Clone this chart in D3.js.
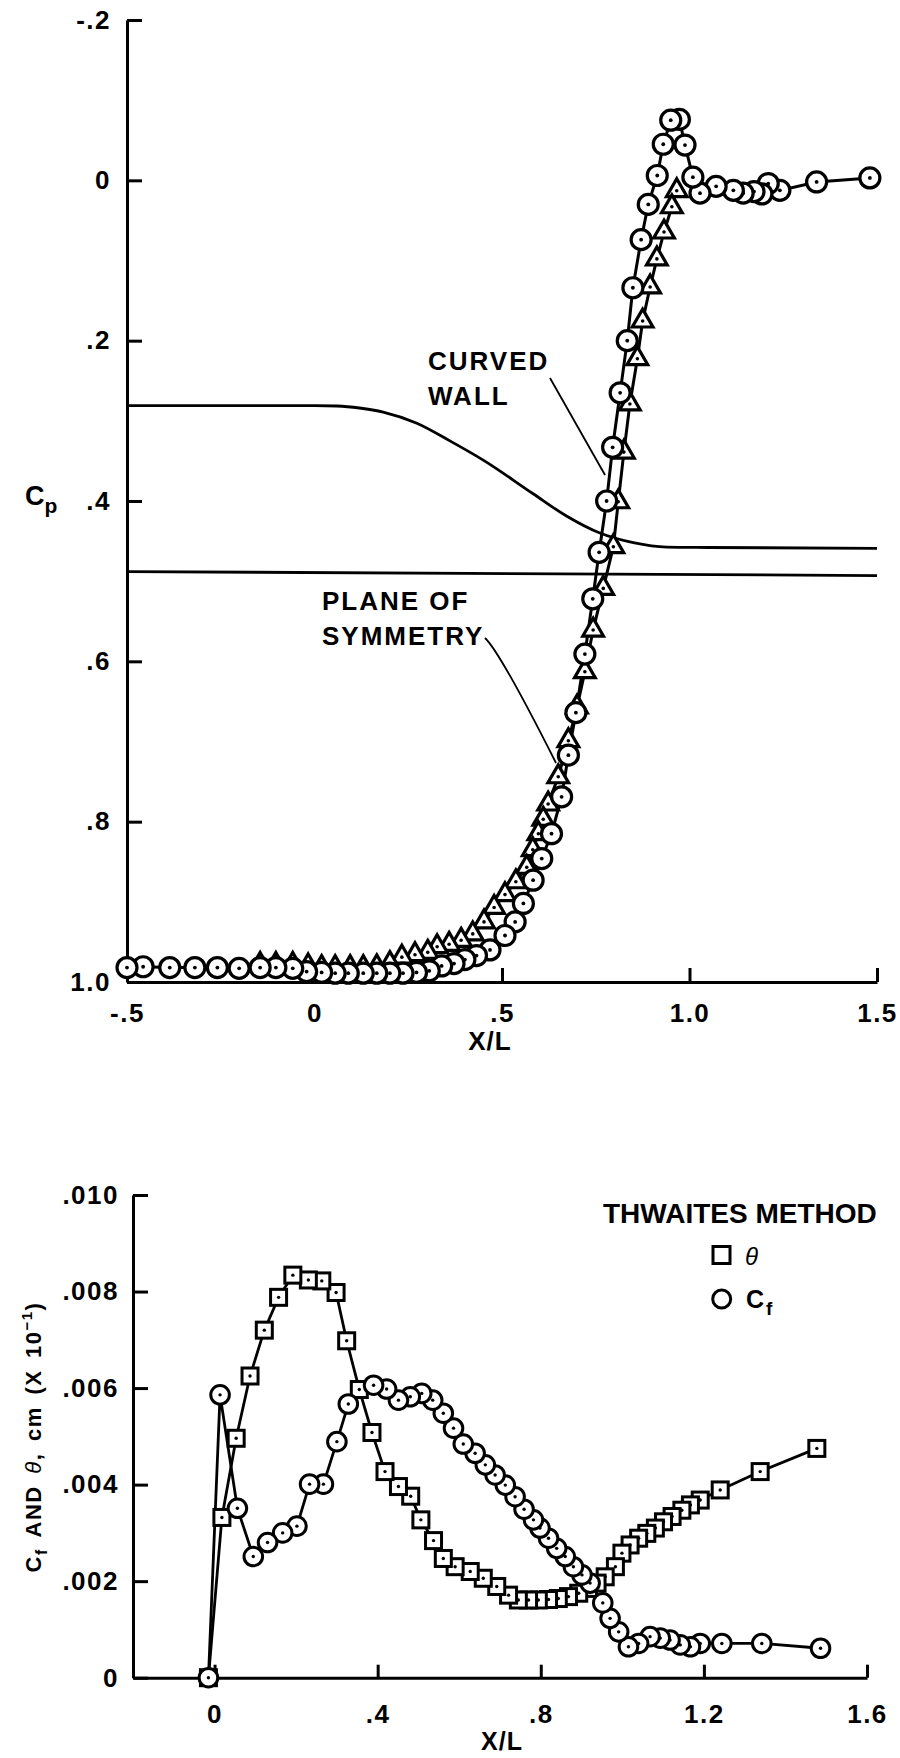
<!DOCTYPE html>
<html><head><meta charset="utf-8">
<script src="https://cdn.jsdelivr.net/npm/d3@7"></script>
<style>
body{margin:0;background:#fff;}
svg text{font-family:"Liberation Sans",Arial,Helvetica,sans-serif;font-weight:bold;fill:#000;}
</style></head><body>
<svg id="chart" width="900" height="1758"></svg>
<script>
// ---------- TOP CHART DATA (Cp vs X/L) ----------
const topCircleX = [-0.5,-0.457,-0.386,-0.319,-0.259,-0.201,-0.145,-0.103,-0.058,-0.021,0.019,0.055,0.090,0.130,0.166,0.201,0.236,0.272,0.306,0.339,0.372,0.401,0.432,0.468,0.508,0.535,0.557,0.583,0.606,0.632,0.659,0.677,0.697,0.721,0.742,0.759,0.779,0.795,0.815,0.834,0.849,0.871,0.890,0.914,0.930,0.950,0.973,0.988,1.009,1.028,1.071,1.117,1.143,1.172,1.193,1.210,1.241,1.339,1.481];
const topCircleCp = [0.982,0.981,0.982,0.982,0.982,0.983,0.982,0.982,0.983,0.987,0.988,0.989,0.989,0.989,0.989,0.989,0.989,0.988,0.986,0.980,0.977,0.972,0.967,0.960,0.942,0.925,0.902,0.873,0.846,0.815,0.769,0.717,0.664,0.591,0.522,0.464,0.400,0.333,0.265,0.200,0.134,0.074,0.030,-0.006,-0.045,-0.075,-0.076,-0.044,-0.004,0.016,0.0075,0.0125,0.016,0.014,0.017,0.004,0.0125,0.002,-0.003];
const topTriX = [-0.145,-0.103,-0.058,-0.017,0.019,0.055,0.095,0.130,0.166,0.201,0.233,0.268,0.302,0.327,0.359,0.391,0.422,0.452,0.479,0.508,0.537,0.566,0.582,0.597,0.610,0.623,0.650,0.677,0.700,0.721,0.743,0.770,0.797,0.810,0.825,0.841,0.861,0.875,0.895,0.913,0.932,0.953,0.966];
const topTriCp = [0.978,0.978,0.978,0.980,0.982,0.982,0.982,0.982,0.981,0.977,0.969,0.966,0.963,0.956,0.953,0.948,0.940,0.925,0.907,0.891,0.875,0.857,0.835,0.815,0.797,0.778,0.744,0.699,0.657,0.613,0.561,0.509,0.457,0.401,0.339,0.279,0.2225,0.1755,0.133,0.098,0.0645,0.033,0.013];
const wallX = [-0.5,0.0,0.06,0.12,0.183,0.273,0.361,0.45,0.583,0.673,0.761,0.85,0.939,1.05,1.5];
const wallCp = [0.281,0.281,0.2815,0.284,0.289,0.303,0.325,0.349,0.391,0.419,0.440,0.452,0.4575,0.458,0.459];
const symX = [-0.5,1.5];
const symCp = [0.488,0.493];
const topXTicks = [-0.5,0,0.5,1.0,1.5];
const topXLabels = ["-.5","0",".5","1.0","1.5"];
const topYTicks = [-0.2,0,0.2,0.4,0.6,0.8,1.0];
const topYLabels = ["-.2","0",".2",".4",".6",".8","1.0"];

// ---------- BOTTOM CHART DATA (Cf and theta vs X/L) ----------
const thetaX = [-0.015,0.018,0.053,0.087,0.122,0.157,0.192,0.230,0.263,0.298,0.324,0.355,0.386,0.418,0.451,0.481,0.506,0.537,0.561,0.590,0.627,0.659,0.692,0.721,0.745,0.770,0.794,0.819,0.843,0.868,0.893,0.917,0.938,0.958,0.983,0.999,1.019,1.040,1.060,1.081,1.101,1.122,1.146,1.167,1.191,1.240,1.338,1.477];
const thetaV = [0,0.00332,0.00496,0.00625,0.0072,0.00788,0.00834,0.00824,0.00822,0.00798,0.00698,0.00597,0.00508,0.00427,0.00396,0.00376,0.00327,0.00284,0.00247,0.0023,0.0022,0.00206,0.00189,0.00171,0.00161,0.00161,0.00161,0.00162,0.00164,0.00168,0.00175,0.00185,0.00196,0.00209,0.0023,0.00258,0.00275,0.00289,0.00299,0.0031,0.00323,0.00334,0.00347,0.00358,0.00368,0.00389,0.00427,0.00475];
const cfX = [-0.015,0.0135,0.056,0.095,0.130,0.167,0.202,0.233,0.267,0.300,0.328,0.390,0.422,0.451,0.480,0.508,0.535,0.561,0.586,0.610,0.639,0.664,0.688,0.713,0.737,0.759,0.782,0.798,0.819,0.839,0.860,0.880,0.901,0.921,0.952,0.970,0.991,1.015,1.040,1.068,1.093,1.117,1.142,1.167,1.191,1.244,1.342,1.486];
const cfV = [0,0.00586,0.00351,0.00251,0.0028,0.003,0.00314,0.00401,0.00401,0.00489,0.00567,0.00606,0.00598,0.00575,0.00582,0.00589,0.00575,0.00548,0.00517,0.00484,0.00465,0.00441,0.0042,0.00399,0.00375,0.00349,0.00327,0.0031,0.00289,0.00268,0.00251,0.0023,0.00213,0.00196,0.00155,0.00123,0.00095,0.00064,0.00071,0.00085,0.00082,0.00078,0.00068,0.00064,0.00071,0.00071,0.00071,0.00061];
const botXTicks = [0,0.4,0.8,1.2,1.6];
const botXLabels = ["0",".4",".8","1.2","1.6"];
const botYTicks = [0,0.002,0.004,0.006,0.008,0.010];
const botYLabels = ["0",".002",".004",".006",".008",".010"];

const svg = d3.select("#chart");

// scales
const xTop = d3.scaleLinear().domain([-0.5,1.5]).range([127,877]);
const yTop = d3.scaleLinear().domain([-0.2,1.0]).range([20,982]);
const xBot = d3.scaleLinear().domain([-0.2,1.6]).range([133,867]);
const yBot = d3.scaleLinear().domain([0,0.010]).range([1677.7,1195]);

function styleAxis(g, fs){
  g.attr("font-size",null).attr("font-family",null);
  g.select(".domain").attr("stroke","#000").attr("stroke-width",3);
  g.selectAll(".tick line").attr("stroke","#000").attr("stroke-width",3);
  g.selectAll(".tick text").style("font-size",fs+"px").style("letter-spacing","1.5px");
}

// ---------- TOP AXES ----------
const gTopX = svg.append("g").attr("transform",`translate(0,${yTop(1.0)})`)
  .call(d3.axisBottom(xTop).tickValues(topXTicks).tickFormat((d,i)=>topXLabels[i])
    .tickSizeInner(-14).tickSizeOuter(0).tickPadding(22));
styleAxis(gTopX,26);
const gTopY = svg.append("g").attr("transform",`translate(${xTop(-0.5)},0)`)
  .call(d3.axisLeft(yTop).tickValues(topYTicks).tickFormat((d,i)=>topYLabels[i])
    .tickSizeInner(-15).tickSizeOuter(0).tickPadding(16));
styleAxis(gTopY,26);

// curves
svg.append("path").datum(wallX.map((x,i)=>[x,wallCp[i]]))
  .attr("d", d3.line().x(d=>xTop(d[0])).y(d=>yTop(d[1])).curve(d3.curveMonotoneX))
  .attr("fill","none").attr("stroke","#000").attr("stroke-width",2.8);
svg.append("path").datum(symX.map((x,i)=>[x,symCp[i]]))
  .attr("d", d3.line().x(d=>xTop(d[0])).y(d=>yTop(d[1]))).attr("fill","none").attr("stroke","#000").attr("stroke-width",2.8);

const lin = (xs,ys,xS,yS)=> d3.line().x(d=>xS(d[0])).y(d=>yS(d[1]))(xs.map((x,i)=>[x,ys[i]]));
svg.append("path").attr("d",lin(topTriX,topTriCp,xTop,yTop)).attr("fill","none").attr("stroke","#000").attr("stroke-width",3);
svg.append("path").attr("d",lin(topCircleX,topCircleCp,xTop,yTop)).attr("fill","none").attr("stroke","#000").attr("stroke-width",3);

function markers(xs, ys, xS, yS, shape, size, sw, dotR){
  const data = xs.map((x,i)=>[x,ys[i]]).reverse();
  const m = svg.append("g").selectAll(null).data(data).join("g")
    .attr("transform", d=>`translate(${xS(d[0])},${yS(d[1])})`);
  if(shape==="circle"){
    m.append("circle").attr("r",size).attr("fill","#fff").attr("stroke","#000").attr("stroke-width",sw);
  } else if(shape==="square"){
    m.append("rect").attr("x",-size/2).attr("y",-size/2).attr("width",size).attr("height",size)
      .attr("fill","#fff").attr("stroke","#000").attr("stroke-width",sw);
  } else {
    m.append("path").attr("d", d3.symbol(d3.symbolTriangle, size)()).attr("fill","#fff").attr("stroke","#000").attr("stroke-width",sw);
  }
  m.append("circle").attr("r",dotR).attr("fill","#000");
}
markers(topTriX, topTriCp, xTop, yTop, "triangle", 185, 3.2, 1.8);
markers(topCircleX, topCircleCp, xTop, yTop, "circle", 10, 3.2, 1.9);

// annotations top
function label(x,y,txt,fs,ls){
  return svg.append("text").attr("x",x).attr("y",y).text(txt)
    .style("font-size",fs+"px").style("letter-spacing",(ls||0)+"px");
}
label(428,370,"CURVED",26,2);
label(428,405,"WALL",26,2);
label(322,610,"PLANE OF",26,2);
label(322,645,"SYMMETRY",26,2);
svg.append("path").attr("d","M550,378 L605,475").attr("stroke","#000").attr("stroke-width",1.8).attr("fill","none");
svg.append("path").attr("d","M485,638 Q500,652 556,763").attr("stroke","#000").attr("stroke-width",1.8).attr("fill","none");
const cp = svg.append("text").attr("x",25).attr("y",505).style("font-size","27px");
cp.append("tspan").text("C");
cp.append("tspan").attr("dy",8).style("font-size","21px").text("p");
svg.append("text").attr("x",490).attr("y",1050).attr("text-anchor","middle").style("font-size","26px").style("letter-spacing","1px").text("X/L");

// ---------- BOTTOM AXES ----------
const gBotX = svg.append("g").attr("transform",`translate(0,${yBot(0)})`)
  .call(d3.axisBottom(xBot).tickValues(botXTicks).tickFormat((d,i)=>botXLabels[i])
    .tickSizeInner(-13).tickSizeOuter(0).tickPadding(27));
styleAxis(gBotX,26);
const gBotY = svg.append("g").attr("transform",`translate(${xBot(-0.2)},0)`)
  .call(d3.axisLeft(yBot).tickValues(botYTicks).tickFormat((d,i)=>botYLabels[i])
    .tickSizeInner(-15).tickSizeOuter(0).tickPadding(14));
styleAxis(gBotY,26);

svg.append("path").attr("d",lin(thetaX,thetaV,xBot,yBot)).attr("fill","none").attr("stroke","#000").attr("stroke-width",2.8);
svg.append("path").attr("d",lin(cfX,cfV,xBot,yBot)).attr("fill","none").attr("stroke","#000").attr("stroke-width",2.8);
markers(thetaX, thetaV, xBot, yBot, "square", 16, 3, 1.7);
markers(cfX, cfV, xBot, yBot, "circle", 9.3, 3, 1.7);

svg.append("text").attr("x",502).attr("y",1750).attr("text-anchor","middle").style("font-size","25px").style("letter-spacing","1px").text("X/L");

// y label rotated
const yl = svg.append("text").attr("transform","translate(41,1437) rotate(-90)").attr("text-anchor","middle")
  .style("font-size","22px").style("letter-spacing","1.5px").style("word-spacing","4px");
yl.append("tspan").text("C");
yl.append("tspan").attr("dy",6).style("font-size","16px").text("f");
yl.append("tspan").attr("dy",-6).text(" AND ");
yl.append("tspan").style("font-style","italic").style("font-weight","normal").text("θ");
yl.append("tspan").text(", cm (X 10");
yl.append("tspan").attr("dy",-9).style("font-size","15px").text("−1");
yl.append("tspan").attr("dy",9).text(")");

// legend
label(603,1223,"THWAITES METHOD",28,0);
svg.append("rect").attr("x",713).attr("y",1246.5).attr("width",17).attr("height",17).attr("fill","#fff").attr("stroke","#000").attr("stroke-width",3);
svg.append("text").attr("x",745).attr("y",1265).style("font-size","24px").style("font-style","italic").style("font-weight","normal").text("θ");
svg.append("circle").attr("cx",721.7).attr("cy",1299).attr("r",9).attr("fill","#fff").attr("stroke","#000").attr("stroke-width",3);
const lc = svg.append("text").attr("x",746).attr("y",1308).style("font-size","25px");
lc.append("tspan").text("C");
lc.append("tspan").attr("dy",7).attr("dx",2).style("font-size","19px").text("f");
</script></body></html>
